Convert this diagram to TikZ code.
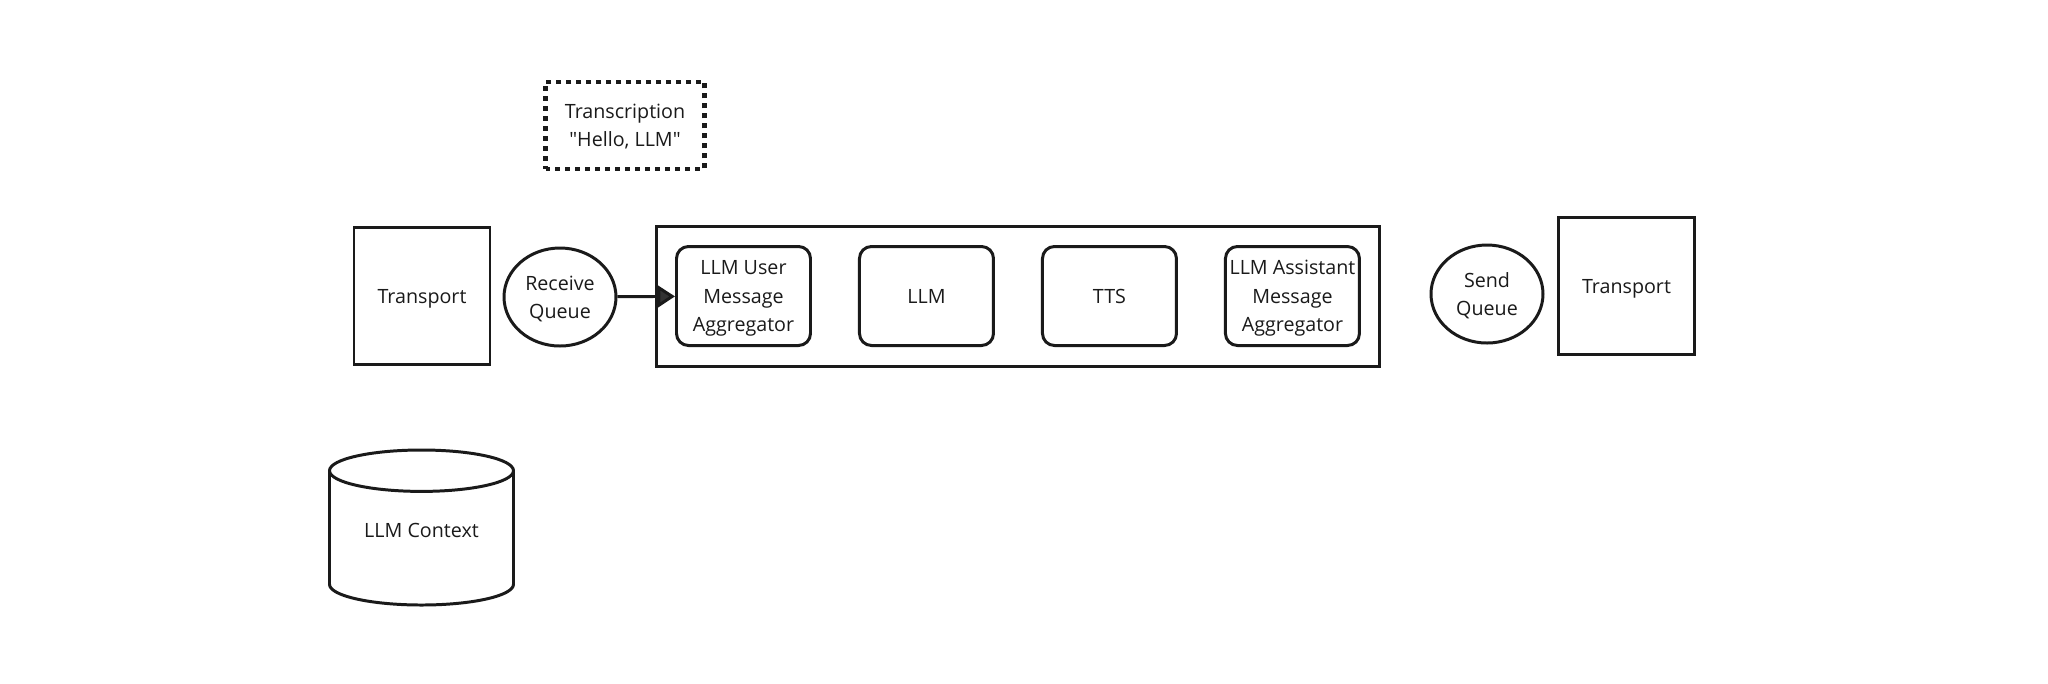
\documentclass[tikz,border=0pt]{standalone}
\usepackage{fontspec}
\setmainfont{Open Sans}
\usepackage{xcolor}
\usepackage{tikz}
\usetikzlibrary{shapes.geometric, arrows.meta, positioning, fit}
\definecolor{ink}{HTML}{1A1A1A}
\definecolor{tipgray}{HTML}{333333}
\tikzstyle{box} = [rectangle, draw=ink, line width=0.85pt, minimum width=1.36cm, minimum height=1.37cm, text=ink, text depth=0pt, align=center]
\tikzstyle{stage} = [rectangle, rounded corners=0.12cm, draw=ink, line width=0.85pt, minimum width=1.34cm, minimum height=0.99cm, inner xsep=1pt, text=ink, text depth=0pt, align=center]
\tikzstyle{queue} = [ellipse, draw=ink, line width=0.85pt, minimum width=1.12cm, minimum height=0.98cm, inner sep=0pt, text=ink, text depth=0pt, align=center]
\tikzstyle{store} = [cylinder, shape border rotate=90, aspect=0.3, draw=ink, line width=0.85pt, minimum width=1.84cm, minimum height=1.55cm, text=ink, text depth=7.8pt]
\tikzstyle{frame} = [rectangle, draw=ink, line width=0.85pt, inner sep=0.19cm]
\tikzstyle{event} = [rectangle, draw=ink, line width=1.4pt, dash pattern=on 1.42pt off 1.42pt, minimum width=1.59cm, minimum height=0.87cm, text=ink, text depth=0pt, align=center]
\tikzstyle{arrow} = [line width=0.85pt, draw=ink, -{Triangle[length=5pt,width=6.3pt,fill=tipgray]}]

\begin{document}
\begin{tikzpicture}[font=\fontsize{5.6}{8.1}\selectfont]
    \useasboundingbox (0,0) rectangle (20.48,-6.83);

    % Incoming side
    \node (trin) [box] at (4.22,-2.96) {Transport};
    \node (rq) [queue] at (5.60,-2.97) {Receive\\Queue};

    % Pipeline stages
    \node (user) [stage] at (7.435,-2.96) {LLM User\\Message\\Aggregator};
    \node (llm) [stage, right=0.46cm of user] {LLM};
    \node (tts) [stage, right=0.46cm of llm] {TTS};
    \node (asst) [stage, right=0.46cm of tts] {LLM Assistant\\Message\\Aggregator};
    \node (pipe) [frame, fit=(user)(asst)] {};

    % Outgoing side
    \node (sq) [queue] at (14.87,-2.94) {Send\\Queue};
    \node (trout) [box] at (16.265,-2.86) {Transport};

    % Frame in flight
    \node (frame1) [event] at (6.25,-1.255) {Transcription\\\textquotedbl Hello, LLM\textquotedbl};

    % Context store
    \node (ctx) [store, anchor=shape center] at (4.215,-5.275) {LLM Context};

    % Arrows
    \draw [arrow] (rq) -- (user);

\end{tikzpicture}
\end{document}
